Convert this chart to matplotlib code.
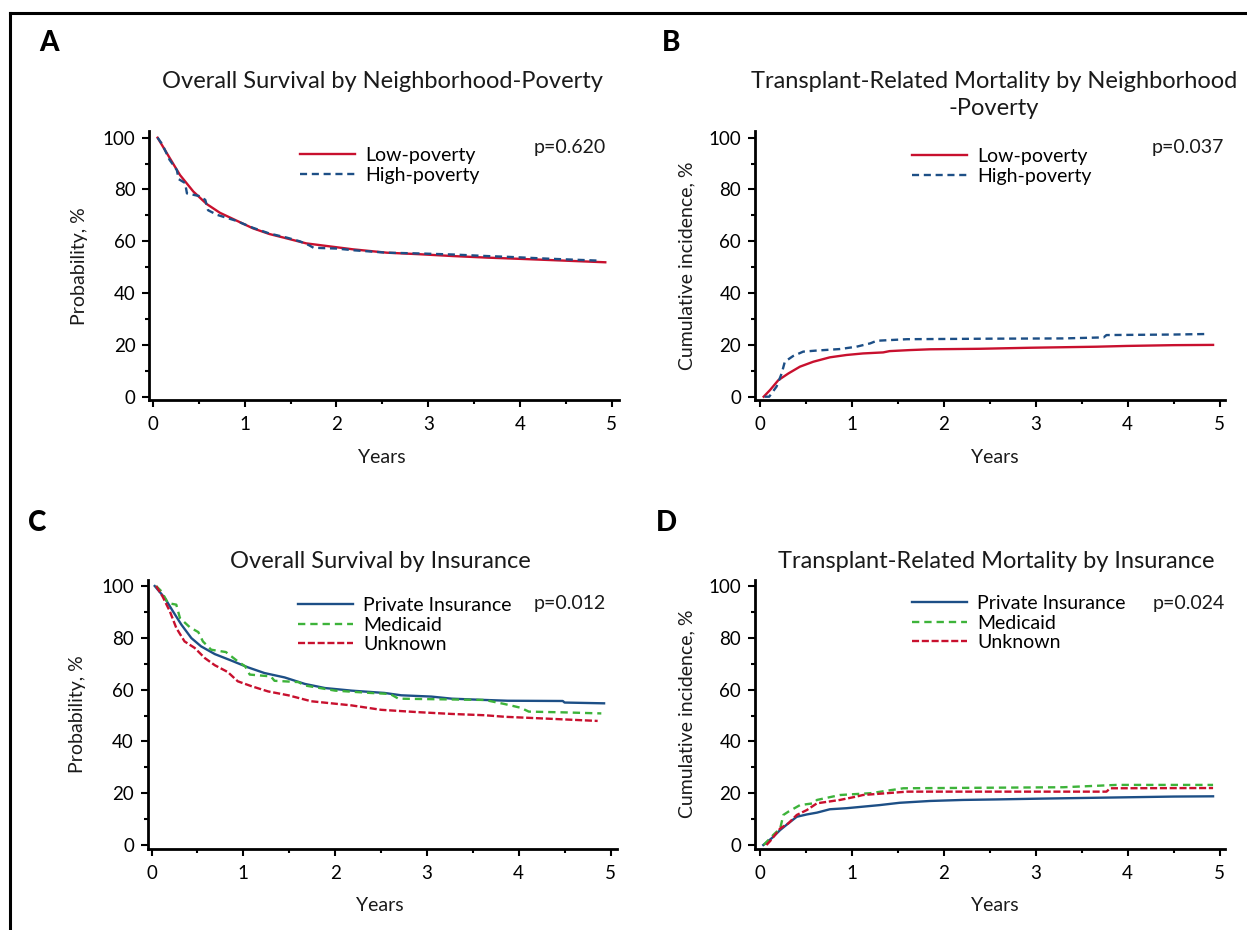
import numpy as np
import matplotlib
matplotlib.use("Agg")
import matplotlib.pyplot as plt
from matplotlib.lines import Line2D
from matplotlib.ticker import MultipleLocator

# ---- data (years, percent) ----
# A: overall survival by neighborhood poverty
os_pov_low_t = [0.05, 0.185, 0.294, 0.44, 0.585, 0.73, 0.91, 1.09, 1.27, 1.46, 1.67,
                1.89, 2.18, 2.55, 2.91, 3.27, 3.64, 3.87, 4.3, 4.93]
os_pov_low = [100, 92.0, 85.6, 79.2, 74.4, 71.0, 68.0, 65.0, 62.8, 61.1, 59.2,
              58.2, 56.9, 55.6, 55.0, 54.3, 53.7, 53.4, 52.8, 51.9]
os_pov_high_t = [0.05, 0.1, 0.18, 0.26, 0.28, 0.35, 0.37, 0.5, 0.57, 0.6, 0.7, 0.9,
                 1.09, 1.27, 1.46, 1.6, 1.7, 1.75, 2.0, 2.2, 2.55, 2.91, 3.27, 3.64,
                 3.87, 4.3, 4.88]
os_pov_high = [100, 97.5, 91.5, 87.5, 84.0, 82.5, 78.5, 77.5, 76.0, 72.0, 70.2, 68.0,
               65.2, 63.0, 61.4, 60.0, 58.5, 57.5, 57.2, 56.5, 55.6, 55.3, 54.9, 54.3,
               54.0, 53.3, 52.5]

# B: transplant-related mortality by neighborhood poverty
trm_pov_low_t = [0.04, 0.11, 0.2, 0.31, 0.435, 0.58, 0.76, 0.94, 1.12, 1.34, 1.41,
                 1.63, 1.85, 2.39, 2.94, 3.3, 3.66, 3.99, 4.5, 4.93]
trm_pov_low = [0, 2.6, 6.4, 9.0, 11.6, 13.5, 15.2, 16.1, 16.7, 17.1, 17.6,
               18.0, 18.3, 18.5, 18.9, 19.1, 19.3, 19.6, 19.9, 20.0]
trm_pov_high_t = [0.05, 0.1, 0.18, 0.236, 0.27, 0.36, 0.47, 0.61, 0.87, 1.05, 1.2,
                  1.27, 1.6, 2.5, 3.3, 3.74, 3.77, 4.5, 4.85, 4.88]
trm_pov_high = [0, 0, 3.9, 9.0, 13.5, 15.7, 17.4, 17.8, 18.4, 19.3, 20.6,
                21.6, 22.2, 22.4, 22.5, 22.9, 23.8, 24.0, 24.2, 24.7]

# C: overall survival by insurance
os_ins_priv_t = [0.035, 0.144, 0.234, 0.325, 0.434, 0.54, 0.69, 0.87, 1.05, 1.23, 1.45,
                 1.67, 1.89, 2.18, 2.54, 2.72, 3.05, 3.27, 3.63, 3.88, 4.48, 4.5, 4.93]
os_ins_priv = [100, 95.4, 90.2, 85.1, 79.9, 76.7, 73.7, 71.2, 68.6, 66.4, 64.7,
               62.2, 60.6, 59.6, 58.7, 57.8, 57.3, 56.5, 56.0, 55.7, 55.6, 55.0, 54.7]
os_ins_med_t = [0.05, 0.107, 0.18, 0.27, 0.31, 0.42, 0.51, 0.56, 0.65, 0.81, 0.94, 1.02,
                1.07, 1.3, 1.34, 1.6, 1.67, 2.0, 2.39, 2.6, 2.69, 3.63, 3.85, 4.02, 4.11,
                4.5, 4.9]
os_ins_med = [100, 98.0, 93.4, 92.8, 87.6, 84.0, 82.2, 78.6, 75.4, 74.5, 70.9, 69.0,
              65.8, 65.1, 63.4, 62.9, 61.6, 59.6, 58.7, 58.3, 56.5, 56.0, 54.4, 53.0, 51.5,
              51.2, 50.8]
os_ins_unk_t = [0.05, 0.12, 0.2, 0.27, 0.36, 0.47, 0.58, 0.69, 0.83, 0.94, 1.09, 1.27,
                1.49, 1.74, 2.18, 2.5, 2.9, 3.27, 3.63, 3.85, 4.3, 4.86]
os_ins_unk = [100, 96.0, 90.2, 83.8, 78.6, 76.1, 72.2, 69.4, 66.8, 63.2, 61.3, 59.3,
              57.8, 55.5, 53.9, 52.2, 51.3, 50.6, 50.1, 49.5, 48.8, 47.9]

# D: transplant-related mortality by insurance
trm_ins_priv_t = [0.036, 0.127, 0.22, 0.31, 0.4, 0.51, 0.62, 0.76, 0.94, 1.12, 1.3,
                  1.52, 1.85, 2.21, 2.58, 3.05, 3.77, 4.5, 4.93]
trm_ins_priv = [0, 2.6, 5.8, 8.4, 10.9, 11.8, 12.5, 13.8, 14.2, 14.8, 15.4,
                16.3, 17.0, 17.4, 17.6, 17.9, 18.3, 18.7, 18.8]
trm_ins_med_t = [0.04, 0.145, 0.22, 0.254, 0.31, 0.435, 0.58, 0.62, 0.87, 1.2, 1.56,
                 3.3, 3.88, 4.93]
trm_ins_med = [0, 3.9, 6.4, 11.6, 12.9, 15.4, 16.1, 17.4, 19.3, 20.0, 21.9,
               22.3, 23.2, 23.2]
trm_ins_unk_t = [0.07, 0.11, 0.22, 0.31, 0.4, 0.51, 0.62, 0.87, 1.05, 1.12, 1.6,
                 3.77, 3.81, 4.93]
trm_ins_unk = [0, 1.5, 6.4, 8.4, 11.6, 13.5, 16.1, 17.4, 18.7, 19.3, 20.6,
               20.6, 21.9, 22.0]

RED = "#c8102e"
BLUE = "#1d4f86"
GREEN = "#3db33a"

W, H = 1247, 930
plt.rcParams["font.family"] = ["Lato", "DejaVu Sans"]
fig = plt.figure(figsize=(W / 100, H / 100), dpi=100)


def fx(x):
    return x / W


def fy(y):
    return 1 - y / H


def make_axes(x0, x5, y0, y100, xlim=(-0.04, 5.075), ylim=(-1.4, 102.4)):
    # place axes so that data 0/5 and 0/100 land on the given pixel positions
    sx = (x5 - x0) / 5.0
    sy = (y0 - y100) / 100.0
    left = x0 + xlim[0] * sx
    right = x0 + xlim[1] * sx
    bottom = y0 - ylim[0] * sy
    top = y0 - ylim[1] * sy
    ax = fig.add_axes([left / W, 1 - bottom / H, (right - left) / W, (bottom - top) / H])
    ax.set_xlim(xlim)
    ax.set_ylim(ylim)
    for s in ("top", "right"):
        ax.spines[s].set_visible(False)
    for s in ("left", "bottom"):
        ax.spines[s].set_linewidth(2.0)
    ax.set_xticks(range(6))
    ax.set_yticks(range(0, 101, 20))
    ax.xaxis.set_minor_locator(MultipleLocator(0.5))
    ax.yaxis.set_minor_locator(MultipleLocator(10))
    ax.tick_params(which="major", length=5, width=1.5, labelsize=13.5, colors="black")
    ax.tick_params(axis="x", which="major", pad=6.5)
    ax.tick_params(axis="y", which="major", pad=5)
    ax.tick_params(which="minor", length=3, width=1.5)
    ax.set_facecolor("none")
    return ax


def add_legend(ax, handles, labels, x, y):
    ax.legend(handles, labels, loc="upper left", bbox_to_anchor=(fx(x), fy(y)),
              bbox_transform=fig.transFigure, frameon=False, fontsize=14,
              handlelength=2.85, handletextpad=0.5, labelspacing=0.13,
              borderpad=0, borderaxespad=0)


lw = 1.7
dash_blue = (0, (3, 2))
dash_green = (0, (3.1, 2.1))
dash_red = (0, (3, 1.15))

# figure frame (top and left rule)
fig.add_artist(Line2D([fx(10), 1], [fy(13), fy(13)], transform=fig.transFigure,
                      color="black", lw=2.2))
fig.add_artist(Line2D([fx(10), fx(10)], [fy(13), 0], transform=fig.transFigure,
                      color="black", lw=2.2))

# ---- A ----
axA = make_axes(153, 611.7, 396.7, 137.7)
lA1, = axA.plot(os_pov_low_t, os_pov_low, color=RED, lw=lw)
lA2, = axA.plot(os_pov_high_t, os_pov_high, color=BLUE, lw=lw, ls=dash_blue)
add_legend(axA, [lA1, lA2], ["Low-poverty", "High-poverty"], 300, 147)

# ---- B ----
axB = make_axes(760, 1219.5, 396.7, 137.7, xlim=(-0.054, 5.06))
lB1, = axB.plot(trm_pov_low_t, trm_pov_low, color=RED, lw=lw)
lB2, = axB.plot(trm_pov_high_t, trm_pov_high, color=BLUE, lw=lw, ls=dash_blue)
add_legend(axB, [lB1, lB2], ["Low-poverty", "High-poverty"], 912, 148)

# ---- C ----
axC = make_axes(151.5, 610.5, 845, 586)
lC1, = axC.plot(os_ins_priv_t, os_ins_priv, color=BLUE, lw=lw)
lC2, = axC.plot(os_ins_med_t, os_ins_med, color=GREEN, lw=lw, ls=dash_green)
lC3, = axC.plot(os_ins_unk_t, os_ins_unk, color=RED, lw=lw, ls=dash_red)
add_legend(axC, [lC1, lC2, lC3], ["Private Insurance", "Medicaid", "Unknown"], 298, 597)

# ---- D ----
axD = make_axes(760, 1219.5, 845, 586, xlim=(-0.054, 5.06))
lD1, = axD.plot(trm_ins_priv_t, trm_ins_priv, color=BLUE, lw=lw)
lD2, = axD.plot(trm_ins_med_t, trm_ins_med, color=GREEN, lw=lw, ls=dash_green)
lD3, = axD.plot(trm_ins_unk_t, trm_ins_unk, color=RED, lw=lw, ls=dash_red)
add_legend(axD, [lD1, lD2, lD3], ["Private Insurance", "Medicaid", "Unknown"], 912, 595)

# ---- texts ----
txt = "#1a1a1a"
for letter, x, y in [("A", 49, 43), ("B", 671, 43), ("C", 37, 523), ("D", 666, 523)]:
    fig.text(fx(x), fy(y), letter, ha="center", va="center", fontsize=20,
             fontweight="black", color="black")

fig.text(fx(382), fy(81), "Overall Survival by Neighborhood-Poverty", ha="center",
         va="center", fontsize=17, color=txt)
fig.text(fx(994), fy(95), "Transplant-Related Mortality by Neighborhood\n-Poverty",
         ha="center", va="center", fontsize=17, color=txt, linespacing=1.3)
fig.text(fx(380), fy(561), "Overall Survival by Insurance", ha="center", va="center",
         fontsize=17, color=txt)
fig.text(fx(996), fy(561), "Transplant-Related Mortality by Insurance", ha="center",
         va="center", fontsize=17, color=txt)

for s, x, y in [("p=0.620", 606, 148), ("p=0.037", 1224, 148),
                ("p=0.012", 606, 603), ("p=0.024", 1225, 603)]:
    fig.text(fx(x), fy(y), s, ha="right", va="center", fontsize=14, color=txt)

for s, x, y in [("Probability, %", 80, 266), ("Cumulative incidence, %", 687, 266),
                ("Probability, %", 78, 714), ("Cumulative incidence, %", 687, 714)]:
    fig.text(fx(x), fy(y), s, rotation=90, ha="center", va="center", fontsize=14, color=txt)

for x, y in [(382, 457), (995, 457), (380, 905), (995, 905)]:
    fig.text(fx(x), fy(y), "Years", ha="center", va="center", fontsize=14, color=txt)

fig.savefig("out.png", dpi=100)
